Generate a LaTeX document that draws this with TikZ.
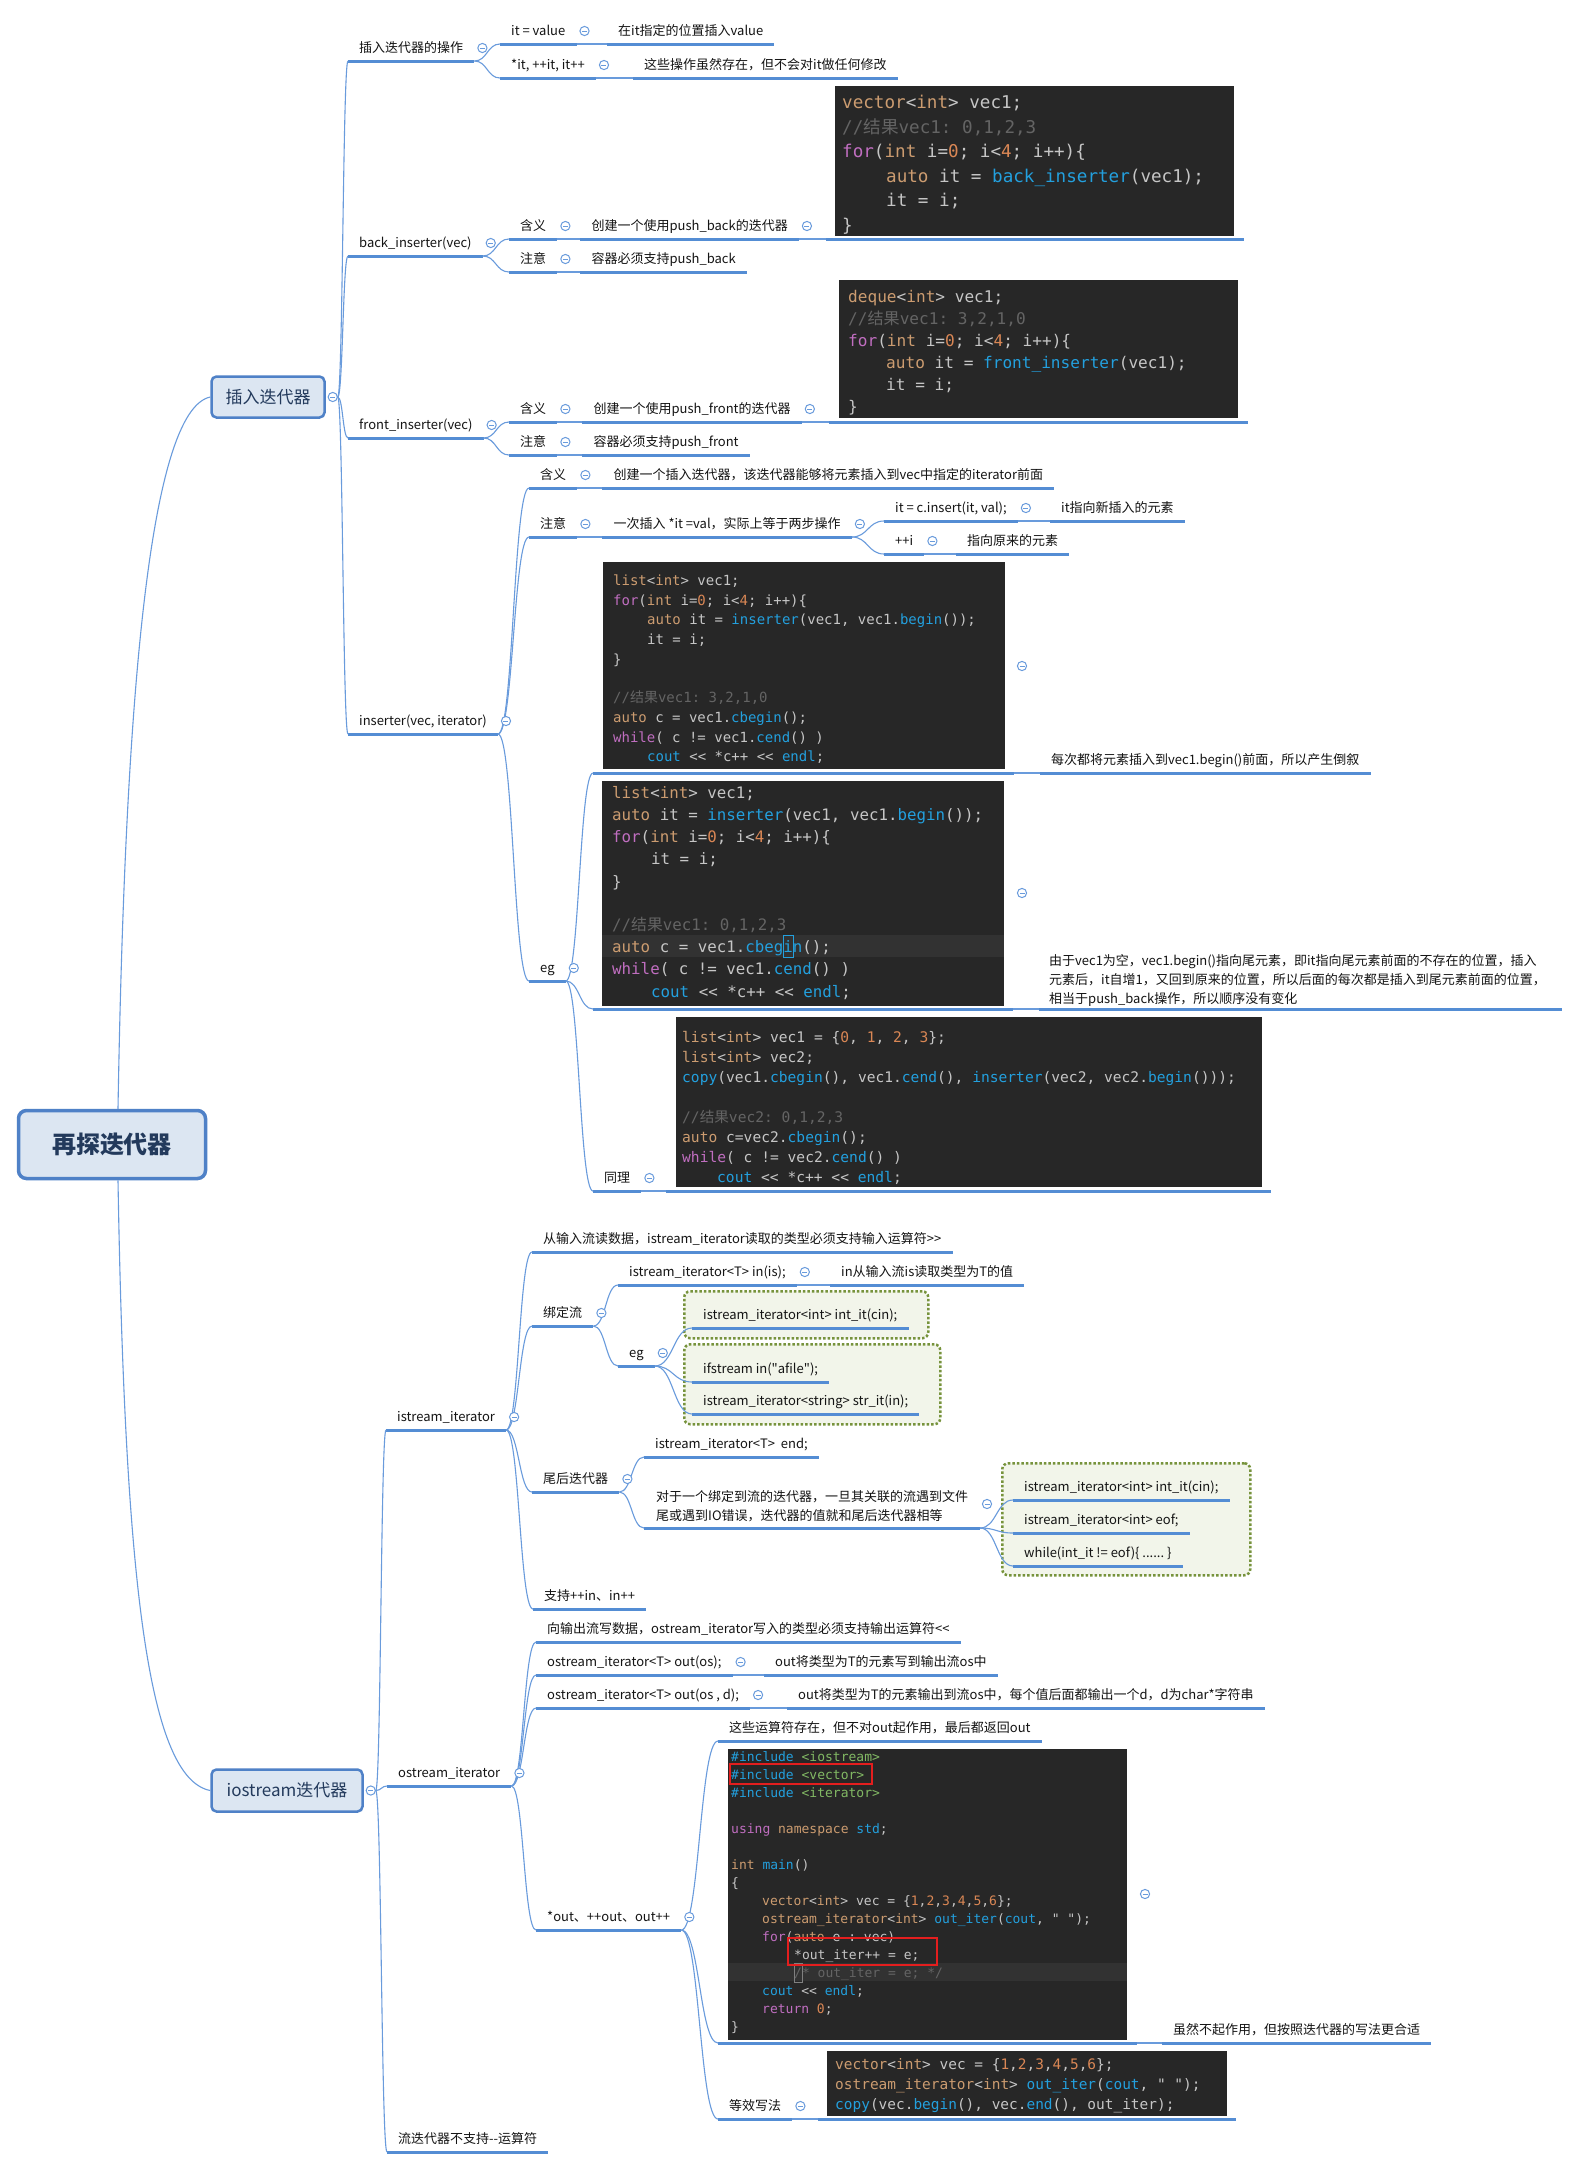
\documentclass[tikz,border=0pt]{standalone}
\usepackage{fontspec}
\usetikzlibrary{calc}
\newfontfamily\lblfont{Noto Sans CJK SC}
\newfontfamily\codefont{DejaVu Sans Mono}
\newfontfamily\cjk{Noto Sans CJK SC}
\definecolor{ulc}{RGB}{84,141,212}
\definecolor{connc}{RGB}{105,155,220}
\definecolor{boxborder}{RGB}{79,129,199}
\definecolor{boxfill}{RGB}{220,230,242}
\definecolor{boxtext}{RGB}{35,58,92}
\definecolor{lblc}{RGB}{20,20,20}
\definecolor{codebg}{RGB}{39,39,39}
\definecolor{hlrow}{RGB}{50,50,50}
\definecolor{greenb}{RGB}{119,147,60}
\definecolor{greenf}{RGB}{242,245,234}
\definecolor{ctype}{RGB}{204,156,112}
\definecolor{cnum}{RGB}{218,135,85}
\definecolor{ckw}{RGB}{192,110,192}
\definecolor{cfn}{RGB}{35,160,222}
\definecolor{cpl}{RGB}{198,198,198}
\definecolor{ccm}{RGB}{100,100,100}
\definecolor{cstr}{RGB}{130,185,100}
\definecolor{redb}{RGB}{228,30,30}
\newcommand\cT[1]{\textcolor{ctype}{#1}}
\newcommand\cN[1]{\textcolor{cnum}{#1}}
\newcommand\cK[1]{\textcolor{ckw}{#1}}
\newcommand\cF[1]{\textcolor{cfn}{#1}}
\newcommand\cC[1]{\textcolor{ccm}{#1}}
\newcommand\cS[1]{\textcolor{cstr}{#1}}
\newcommand\zh[1]{{\cjk #1}}
\newcommand\conn[2]{\draw[conn] (#1) .. controls ($(#1)!0.5!(#2 |- #1)$) and ($(#2)!0.5!(#1 |- #2)$) .. (#2);}
\newcommand\clps[1]{\draw[clpsst] ($(#1.south east)+(8,-13)$) circle (4.6pt); \draw[clpsst] ($(#1.south east)+(5.5,-13)$) -- ++(5,0);}
\newcommand\clpsat[1]{\draw[clpsst] (#1) circle (4.6pt); \draw[clpsst] ($(#1)+(-2.5,0)$) -- ++(5,0);}
\newcommand\codeln[4]{\node[code] (#1) at (#2,#3) {#4};}
\tikzset{
 ul/.style={draw=ulc, line width=3pt},
 conn/.style={draw=connc, line width=1.1pt},
 clpsst/.style={draw=connc, line width=1pt, fill=white},
 topic/.style={anchor=south west, inner xsep=11pt, inner ysep=5pt, text height=10pt, text depth=3pt,
   font=\lblfont\fontsize{13}{15}\selectfont, text=lblc,
   append after command={(\tikzlastnode.south west) edge[ul] (\tikzlastnode.south east)}},
 lbl/.style={anchor=base west, inner sep=0pt, font=\lblfont\fontsize{13}{15}\selectfont, text=lblc},
 code/.style={anchor=base west, inner sep=0pt, text=cpl},
 codebox/.style={fill=codebg, anchor=north west, inner sep=0pt, draw=none},
 gbox/.style={draw=greenb, fill=greenf, line width=2.5pt, dash pattern=on 2.5pt off 2pt, rounded corners=6pt, anchor=north west, inner sep=0pt},
 lvl1/.style={draw=boxborder, fill=boxfill, line width=2.5pt, rounded corners=5pt, font=\lblfont\fontsize{17}{20}\selectfont, text=boxtext, inner sep=0pt},
 redbox/.style={draw=redb, line width=1.5pt},
}
\begin{document}
\frenchspacing
\begin{tikzpicture}[x=1pt,y=-1pt]
\fill[white] (0,0) rectangle (1574,2169);
\useasboundingbox (0,0) rectangle (1574,2169);

% ---------- green boxes ----------
\node[gbox, minimum width=244pt, minimum height=47pt] (g1) at (683,1290) {};
\node[gbox, minimum width=256pt, minimum height=80pt] (g2) at (683,1343) {};
\node[gbox, minimum width=248pt, minimum height=112pt] (g3) at (1001,1462) {};

% ---------- code box 1 ----------
\node[codebox, minimum width=399pt, minimum height=150pt] (cb1) at (835,86) {};
\begin{scope}[nodes={font=\codefont\fontsize{17.6}{20}\selectfont}]
\codeln{cb1a}{842}{108}{\cT{vector}<\cT{int}> vec1;}
\codeln{cb1b}{842}{133}{\cC{//\zh{结果}vec1: 0,1,2,3}}
\codeln{cb1c}{842}{157}{\cK{for}(\cT{int} i=\cN{0}; i<\cN{4}; i++)\{}
\codeln{cb1d}{886}{182}{\cT{auto} it = \cF{back\_inserter}(vec1);}
\codeln{cb1e}{886}{206}{it = i;}
\codeln{cb1f}{842}{231}{\}}
\end{scope}
\coordinate (cb1l) at (826,239); \coordinate (cb1r) at (1244,239);
\draw[ul] (cb1l) -- (cb1r);

% ---------- code box 2 ----------
\node[codebox, minimum width=399pt, minimum height=138pt] (cb2) at (839,280) {};
\begin{scope}[nodes={font=\codefont\fontsize{16.1}{18}\selectfont}]
\codeln{cb2a}{848}{302.6}{\cT{deque}<\cT{int}> vec1;}
\codeln{cb2b}{848}{324.6}{\cC{//\zh{结果}vec1: 3,2,1,0}}
\codeln{cb2c}{848}{346.6}{\cK{for}(\cT{int} i=\cN{0}; i<\cN{4}; i++)\{}
\codeln{cb2d}{886}{368.6}{\cT{auto} it = \cF{front\_inserter}(vec1);}
\codeln{cb2e}{886}{390.6}{it = i;}
\codeln{cb2f}{848}{412.6}{\}}
\end{scope}
\coordinate (cb2l) at (829,422); \coordinate (cb2r) at (1248,422);
\draw[ul] (cb2l) -- (cb2r);

% ---------- code box A ----------
\node[codebox, minimum width=402pt, minimum height=207pt] (cbA) at (603,562) {};
\begin{scope}[nodes={font=\codefont\fontsize{14}{16}\selectfont}]
\codeln{cbAa}{613}{585}{\cT{list}<\cT{int}> vec1;}
\codeln{cbAb}{613}{605}{\cK{for}(\cT{int} i=\cN{0}; i<\cN{4}; i++)\{}
\codeln{cbAc1}{647}{624}{\cT{auto} it = \cF{inserter}(vec1, vec1.\cF{begin}());}
\codeln{cbAd}{647}{644}{it = i;}
\codeln{cbAe}{613}{664}{\}}
\codeln{cbAf}{613}{702}{\cC{//\zh{结果}vec1: 3,2,1,0}}
\codeln{cbAg}{613}{722}{\cT{auto} c = vec1.\cF{cbegin}();}
\codeln{cbAh}{613}{742}{\cK{while}( c != vec1.\cF{cend}() )}
\codeln{cbAi}{647}{761}{\cF{cout} <\kern0pt< *c++ <\kern0pt< \cF{endl};}
\end{scope}
\coordinate (cbAl) at (593,773); \coordinate (cbAr) at (1014,773);
\draw[ul] (cbAl) -- (cbAr);

% ---------- code box B ----------
\node[codebox, minimum width=402pt, minimum height=225pt] (cbB) at (602,781) {};
\fill[hlrow] (602,935) rectangle (1004,957);
\begin{scope}[nodes={font=\codefont\fontsize{15.8}{18}\selectfont}]
\codeln{cbBa}{612}{798.5}{\cT{list}<\cT{int}> vec1;}
\codeln{cbBb}{612}{820.5}{\cT{auto} it = \cF{inserter}(vec1, vec1.\cF{begin}());}
\codeln{cbBc}{612}{842.5}{\cK{for}(\cT{int} i=\cN{0}; i<\cN{4}; i++)\{}
\codeln{cbBd}{651}{864.5}{it = i;}
\codeln{cbBe}{612}{887.5}{\}}
\codeln{cbBf}{612}{930.5}{\cC{//\zh{结果}vec1: 0,1,2,3}}
\codeln{cbBg}{612}{952.5}{\cT{auto} c = vec1.\cF{cbegin}();}
\codeln{cbBh}{612}{974.5}{\cK{while}( c != vec1.\cF{cend}() )}
\codeln{cbBi}{651}{997.5}{\cF{cout} <\kern0pt< *c++ <\kern0pt< \cF{endl};}
\end{scope}
\draw[cfn, line width=1pt] (783,935) rectangle (793,957);
\coordinate (cbBl) at (593,1009); \coordinate (cbBr) at (1013,1009);
\draw[ul] (cbBl) -- (cbBr);

% ---------- code box C ----------
\node[codebox, minimum width=586pt, minimum height=170pt] (cbC) at (676,1017) {};
\begin{scope}[nodes={font=\codefont\fontsize{14.6}{17}\selectfont}]
\codeln{cbCa}{682}{1042}{\cT{list}<\cT{int}> vec1 = \{\cN{0}, \cN{1}, \cN{2}, \cN{3}\};}
\codeln{cbCb}{682}{1062}{\cT{list}<\cT{int}> vec2;}
\codeln{cbCc}{682}{1082}{\cF{copy}(vec1.\cF{cbegin}(), vec1.\cF{cend}(), \cF{inserter}(vec2, vec2.\cF{begin}()));}
\codeln{cbCd}{682}{1122}{\cC{//\zh{结果}vec2: 0,1,2,3}}
\codeln{cbCe}{682}{1142}{\cT{auto} c=vec2.\cF{cbegin}();}
\codeln{cbCf}{682}{1162}{\cK{while}( c != vec2.\cF{cend}() )}
\codeln{cbCg}{717}{1182}{\cF{cout} <\kern0pt< *c++ <\kern0pt< \cF{endl};}
\end{scope}
\coordinate (cbCl) at (666,1191); \coordinate (cbCr) at (1271,1191);
\draw[ul] (cbCl) -- (cbCr);

% ---------- code box D ----------
\node[codebox, minimum width=399pt, minimum height=291pt] (cbD) at (728,1749) {};
\fill[hlrow] (728,1963) rectangle (1127,1981);
\begin{scope}[nodes={font=\codefont\fontsize{13}{15}\selectfont}]
\codeln{cbDa}{731}{1761.5}{\cF{\#include} \cS{<iostream>}}
\codeln{cbDb}{731}{1779.5}{\cF{\#include} \cS{<vector>}}
\codeln{cbDc1}{731}{1797.5}{\cF{\#include} \cS{<iterator>}}
\codeln{cbDd}{731}{1833.5}{\cK{using} \cT{namespace} \cF{std};}
\codeln{cbDe}{731}{1869.5}{\cT{int} \cF{main}()}
\codeln{cbDf}{731}{1887.5}{\{}
\codeln{cbDg}{762}{1905.5}{\cT{vector}<\cT{int}> vec = \{\cN{1},\cN{2},\cN{3},\cN{4},\cN{5},\cN{6}\};}
\codeln{cbDh}{762}{1923.5}{\cT{ostream\_iterator}<\cT{int}> \cF{out\_iter}(\cF{cout}, \symbol{34} \symbol{34});}
\codeln{cbDi}{762}{1941.5}{\cK{for}(\cT{auto} e : vec)}
\codeln{cbDj}{794}{1959.5}{*out\_iter++ = e;}
\codeln{cbDk}{794}{1977.5}{\cC{/* out\_iter = e; */}}
\codeln{cbDl1}{762}{1995.5}{\cF{cout} <\kern0pt< \cF{endl};}
\codeln{cbDm}{762}{2013.5}{\cK{return} \cN{0};}
\codeln{cbDn}{731}{2031.5}{\}}
\end{scope}
\draw[gray, line width=0.8pt] (794,1963) rectangle (802,1982);
\draw[redbox] (730,1764) rectangle (872,1784);
\draw[redbox] (788,1938) rectangle (937,1965);
\coordinate (cbDl) at (718,2043); \coordinate (cbDr) at (1137,2043);
\draw[ul] (cbDl) -- (cbDr);

% ---------- code box E ----------
\node[codebox, minimum width=400pt, minimum height=65pt] (cbE) at (827,2051) {};
\begin{scope}[nodes={font=\codefont\fontsize{14.45}{17}\selectfont}]
\codeln{cbEa}{835}{2069}{\cT{vector}<\cT{int}> vec = \{\cN{1},\cN{2},\cN{3},\cN{4},\cN{5},\cN{6}\};}
\codeln{cbEb}{835}{2089}{\cT{ostream\_iterator}<\cT{int}> \cF{out\_iter}(\cF{cout}, \symbol{34} \symbol{34});}
\codeln{cbEc}{835}{2109}{\cF{copy}(vec.\cF{begin}(), vec.\cF{end}(), out\_iter);}
\end{scope}
\coordinate (cbEl) at (818,2119); \coordinate (cbEr) at (1236,2119);
\draw[ul] (cbEl) -- (cbEr);

% ---------- level 0 / 1 ----------
\node[lvl1, minimum width=187pt, minimum height=68pt, line width=3.5pt, rounded corners=8pt,
  font=\lblfont\bfseries\fontsize{24}{28}\selectfont] (root) at (112,1144.5) {再探迭代器};
\node[lvl1, minimum width=113pt, minimum height=41pt] (ins) at (268,397) {插入迭代器};
\node[lvl1, minimum width=151pt, minimum height=42pt] (ios) at (287,1790.5) {iostream迭代器};
\coordinate (insc) at ($(ins.east)+(7,0)$);
\coordinate (inso) at ($(ins.east)+(12,0)$);
\coordinate (iosc) at ($(ios.east)+(7,0)$);
\coordinate (ioso) at ($(ios.east)+(12,0)$);
\coordinate (rtop) at ($(root.north)+(6,0)$);
\coordinate (rbot) at ($(root.south)+(6,0)$);

% ---------- 插入迭代器 branch ----------
\node[topic] (a1) at (348,61) {插入迭代器的操作};
\node[topic] (a11) at (500,44) {it = value};
\node[topic] (a111) at (607,44) {在it指定的位置插入value};
\node[topic] (a12) at (500,78) {*it, ++it, it++};
\node[topic] (a121) at (633,78) {这些操作虽然存在，但不会对it做任何修改};

\node[topic] (a2) at (348,256) {back\_inserter(vec)};
\node[topic] (a21) at (509,239) {含义};
\node[topic] (a211) at ($(a21.south east)+(23,0)$) {创建一个使用push\_back的迭代器};
\node[topic] (a22) at (509,272) {注意};
\node[topic] (a221) at ($(a22.south east)+(23,0)$) {容器必须支持push\_back};

\node[topic] (a3) at (348,438) {front\_inserter(vec)};
\node[topic] (a31) at (509,422) {含义};
\node[topic] (a311) at ($(a31.south east)+(25,0)$) {创建一个使用push\_front的迭代器};
\node[topic] (a32) at (509,455) {注意};
\node[topic] (a321) at ($(a32.south east)+(25,0)$) {容器必须支持push\_front};

\node[topic] (a4) at (348,734) {inserter(vec, iterator)};
\node[topic] (a41) at (529,488) {含义};
\node[topic] (a411) at ($(a41.south east)+(25,0)$) {创建一个插入迭代器，该迭代器能够将元素插入到vec中指定的iterator前面};
\node[topic] (a42) at (529,537) {注意};
\node[topic] (a421) at ($(a42.south east)+(25,0)$) {一次插入 *it =val，实际上等于两步操作};
\node[topic] (a4211) at (884,521) {it = c.insert(it, val);};
\node[topic] (a42111) at (1050,521) {it指向新插入的元素};
\node[topic] (a4212) at (884,554) {++i};
\node[topic] (a42121) at (956,554) {指向原来的元素};
\node[topic] (a43) at (529,981) {eg};
\node[topic] (cbAc) at (1040,773) {每次都将元素插入到vec1.begin()前面，所以产生倒叙};
\node[lbl] (cbBc1) at (1049,965) {由于vec1为空，vec1.begin()指向尾元素，即it指向尾元素前面的不存在的位置，插入};
\node[lbl] (cbBc2) at (1049,984) {元素后，it自增1，又回到原来的位置，所以后面的每次都是插入到尾元素前面的位置，};
\node[lbl] (cbBc3) at (1049,1003) {相当于push\_back操作，所以顺序没有变化};
\coordinate (cbBcl) at (1039,1009); \coordinate (cbBcr) at (1562,1009);
\draw[ul] (cbBcl) -- (cbBcr);
\node[topic] (a433) at (593,1191) {同理};

% ---------- iostream迭代器 branch ----------
\node[topic] (b1) at (386,1430) {istream\_iterator};
\node[topic] (b11) at (532,1252) {从输入流读数据，istream\_iterator读取的类型必须支持输入运算符>\kern0pt>};
\node[topic] (b12) at (532,1326) {绑定流};
\node[topic] (b121) at (618,1285) {istream\_iterator<T> in(is);};
\node[topic] (b1211) at (830,1285) {in从输入流is读取类型为T的值};
\node[topic] (b122) at (618,1366) {eg};
\node[topic] (b1221) at (692,1328) {istream\_iterator<int> int\_it(cin);};
\node[topic] (b1222) at (692,1382) {ifstream in(\symbol{34}afile\symbol{34});};
\node[topic] (b1223) at (692,1414) {istream\_iterator<string> str\_it(in);};
\node[topic] (b13) at (532,1492) {尾后迭代器};
\node[topic] (b131) at (644,1457) {istream\_iterator<T>\ \ end;};
\node[lbl] (b132a) at (656,1501) {对于一个绑定到流的迭代器，一旦其关联的流遇到文件};
\node[lbl] (b132b) at (656,1520) {尾或遇到IO错误，迭代器的值就和尾后迭代器相等};
\coordinate (b132l) at (644,1528); \coordinate (b132r) at (980,1528);
\draw[ul] (b132l) -- (b132r);
\node[topic] (b1321) at (1013,1500) {istream\_iterator<int> int\_it(cin);};
\node[topic] (b1322) at (1013,1533) {istream\_iterator<int> eof;};
\node[topic] (b1323) at (1013,1566) {while(int\_it != eof)\{ ...... \}};
\node[topic] (b14) at (533,1609) {支持++in、in++};

\node[topic] (b2) at (387,1786) {ostream\_iterator};
\node[topic] (b21) at (536,1642) {向输出流写数据，ostream\_iterator写入的类型必须支持输出运算符<\kern0pt<};
\node[topic] (b22) at (536,1675) {ostream\_iterator<T> out(os);};
\node[topic] (b221) at (764,1675) {out将类型为T的元素写到输出流os中};
\node[topic] (b23) at (536,1708) {ostream\_iterator<T> out(os , d);};
\node[topic] (b231) at (787,1708) {out将类型为T的元素输出到流os中，每个值后面都输出一个d，d为char*字符串};
\node[topic] (b24) at (536,1930) {*out、++out、out++};
\node[topic] (b241) at (718,1741) {这些运算符存在，但不对out起作用，最后都返回out};
\node[topic] (cbDc) at (1162,2043) {虽然不起作用，但按照迭代器的写法更合适};
\node[topic] (b243) at (718,2119) {等效写法};
\node[topic] (b3) at (387,2152) {流迭代器不支持-\kern0pt-运算符};

% ---------- connectors ----------
\draw[conn] (rtop) .. controls +(7,-410) and +(-61,13) .. (ins.west);
\draw[conn] (rbot) .. controls +(7,411) and +(-61,-12) .. (ios.west);

\conn{inso}{a1.south west}
\conn{inso}{a2.south west}
\conn{inso}{a3.south west}
\conn{inso}{a4.south west}
\conn{a1.south east}{a11.south west}
\conn{a1.south east}{a12.south west}
\conn{a11.south east}{a111.south west}
\conn{a12.south east}{a121.south west}
\conn{a2.south east}{a21.south west}
\conn{a2.south east}{a22.south west}
\conn{a21.south east}{a211.south west}
\conn{a211.south east}{cb1l}
\conn{a22.south east}{a221.south west}
\conn{a3.south east}{a31.south west}
\conn{a3.south east}{a32.south west}
\conn{a31.south east}{a311.south west}
\conn{a311.south east}{cb2l}
\conn{a32.south east}{a321.south west}
\conn{a4.south east}{a41.south west}
\conn{a4.south east}{a42.south west}
\conn{a4.south east}{a43.south west}
\conn{a41.south east}{a411.south west}
\conn{a42.south east}{a421.south west}
\conn{a421.south east}{a4211.south west}
\conn{a421.south east}{a4212.south west}
\conn{a4211.south east}{a42111.south west}
\conn{a4212.south east}{a42121.south west}
\conn{a43.south east}{cbAl}
\conn{a43.south east}{cbBl}
\conn{a43.south east}{a433.south west}
\conn{cbAr}{cbAc.south west}
\conn{cbBr}{cbBcl}
\conn{a433.south east}{cbCl}

\conn{ioso}{b1.south west}
\conn{ioso}{b2.south west}
\conn{ioso}{b3.south west}
\conn{b1.south east}{b11.south west}
\conn{b1.south east}{b12.south west}
\conn{b1.south east}{b13.south west}
\conn{b1.south east}{b14.south west}
\conn{b12.south east}{b121.south west}
\conn{b12.south east}{b122.south west}
\conn{b121.south east}{b1211.south west}
\conn{b122.south east}{b1221.south west}
\conn{b122.south east}{b1222.south west}
\conn{b122.south east}{b1223.south west}
\conn{b13.south east}{b131.south west}
\conn{b13.south east}{b132l}
\conn{b132r}{b1321.south west}
\conn{b132r}{b1322.south west}
\conn{b132r}{b1323.south west}
\conn{b2.south east}{b21.south west}
\conn{b2.south east}{b22.south west}
\conn{b2.south east}{b23.south west}
\conn{b2.south east}{b24.south west}
\conn{b22.south east}{b221.south west}
\conn{b23.south east}{b231.south west}
\conn{b24.south east}{b241.south west}
\conn{b24.south east}{cbDl}
\conn{b24.south east}{b243.south west}
\conn{cbDr}{cbDc.south west}
\conn{b243.south east}{cbEl}

% ---------- collapse circles ----------
\clpsat{insc}
\clpsat{iosc}
\foreach \n in {a1,a11,a12,a2,a21,a211,a22,a3,a31,a311,a32,a4,a41,a42,a421,a4211,a4212,a43,a433,
  b1,b12,b121,b122,b13,b2,b22,b23,b24,b243}{\clps{\n}}
\coordinate (cAc) at (1022,666); \clpsat{cAc}
\coordinate (cBc) at (1022,893); \clpsat{cBc}
\coordinate (b132c) at (987,1504); \clpsat{b132c}
\coordinate (cDc) at (1145,1894); \clpsat{cDc}
\end{tikzpicture}
\end{document}
